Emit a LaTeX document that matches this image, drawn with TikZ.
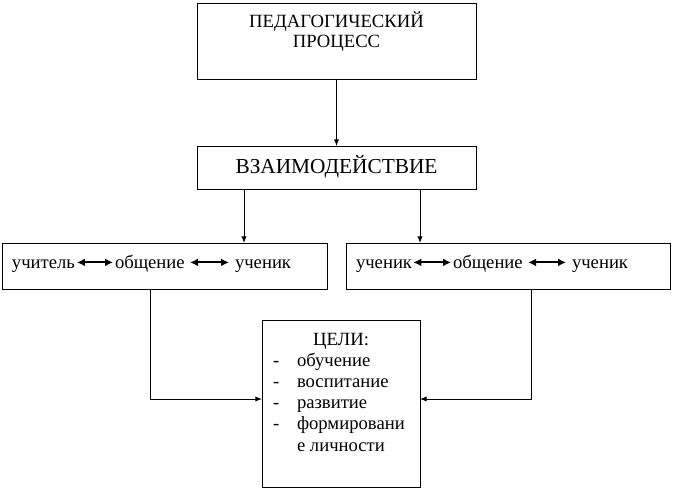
\documentclass[tikz,border=0pt]{standalone}
\usepackage{fontspec}
\setmainfont{Liberation Serif}
\usetikzlibrary{arrows.meta,calc}
\begin{document}
\begin{tikzpicture}[x=0.75pt,y=-0.75pt,
  box/.style={draw,line width=0.75pt,inner sep=0pt,outer sep=0pt},
  txt/.style={inner sep=0pt,outer sep=0pt,font=\fontsize{14}{16}\selectfont},
  arr/.style={line width=0.75pt,-{Latex[length=5pt,width=4pt]}},
  dbl/.style={line width=1.5pt,{Latex[length=6pt,width=6pt]}-{Latex[length=6pt,width=6pt]}}]
\useasboundingbox[fill=white] (0,0) rectangle (674,490);
% boxes
\node[box,minimum width=279*0.75pt,minimum height=76*0.75pt] (top) at (336.5,41) {};
\node[box,minimum width=279*0.75pt,minimum height=43*0.75pt] (vz) at (336.5,167.5) {};
\node[box,minimum width=325*0.75pt,minimum height=46*0.75pt] (left) at (164.5,266) {};
\node[box,minimum width=324*0.75pt,minimum height=46*0.75pt] (right) at (508,266) {};
\node[box,minimum width=158*0.75pt,minimum height=167*0.75pt] (goal) at (341,403.5) {};
% top text
\node[txt,anchor=base] (t1) at (336.5,27) {ПЕДАГОГИЧЕСКИЙ};
\node[txt,anchor=base] (t2) at (336.5,47) {ПРОЦЕСС};
\node[inner sep=0pt,anchor=base,font=\fontsize{16}{18}\selectfont] (vzt) at (336.5,173) {ВЗАИМОДЕЙСТВИЕ};
% left row
\node[txt,anchor=base west] (l1) at (12,268) {учитель};
\node[txt,anchor=base west] (l2) at (115,268) {общение};
\node[txt,anchor=base west] (l3) at (235,268) {ученик};
\draw[dbl] ([yshift=4.2pt,xshift=1.5pt]l1.base east) -- ([yshift=4.2pt,xshift=-1.5pt]l2.base west);
\draw[dbl] ([yshift=4.2pt,xshift=4pt]l2.base east) -- ([yshift=4.2pt,xshift=-4.5pt]l3.base west);
% right row
\node[txt,anchor=base west] (r1) at (356,268) {ученик};
\node[txt,anchor=base west] (r2) at (453,268) {общение};
\node[txt,anchor=base west] (r3) at (572,268) {ученик};
\draw[dbl] ([yshift=4.2pt,xshift=1pt]r1.base east) -- ([yshift=4.2pt,xshift=-1.5pt]r2.base west);
\draw[dbl] ([yshift=4.2pt,xshift=4pt]r2.base east) -- ([yshift=4.2pt,xshift=-4.5pt]r3.base west);
% goals
\node[txt,anchor=base] (g0) at (341,345) {ЦЕЛИ:};
\foreach \i/\w in {1/обучение,2/воспитание,3/развитие,4/формировани}{
  \node[txt,anchor=base west] (d\i) at (273,345+21.2*\i) {-};
  \node[txt,anchor=base west] (g\i) at (297,345+21.2*\i) {\w};
}
\node[txt,anchor=base west] (g5) at (297,451) {е личности};
% connectors
\draw[arr] (top.south) -- (vz.north);
\draw[arr] (vz.south -| 244,0) -- (left.north -| 244,0);
\draw[arr] (vz.south -| 420,0) -- (right.north -| 420,0);
\draw[arr] (left.south -| 150,0) |- (goal.west |- 0,399);
\draw[arr] (right.south -| 531,0) |- (goal.east |- 0,399);
\end{tikzpicture}
\end{document}
